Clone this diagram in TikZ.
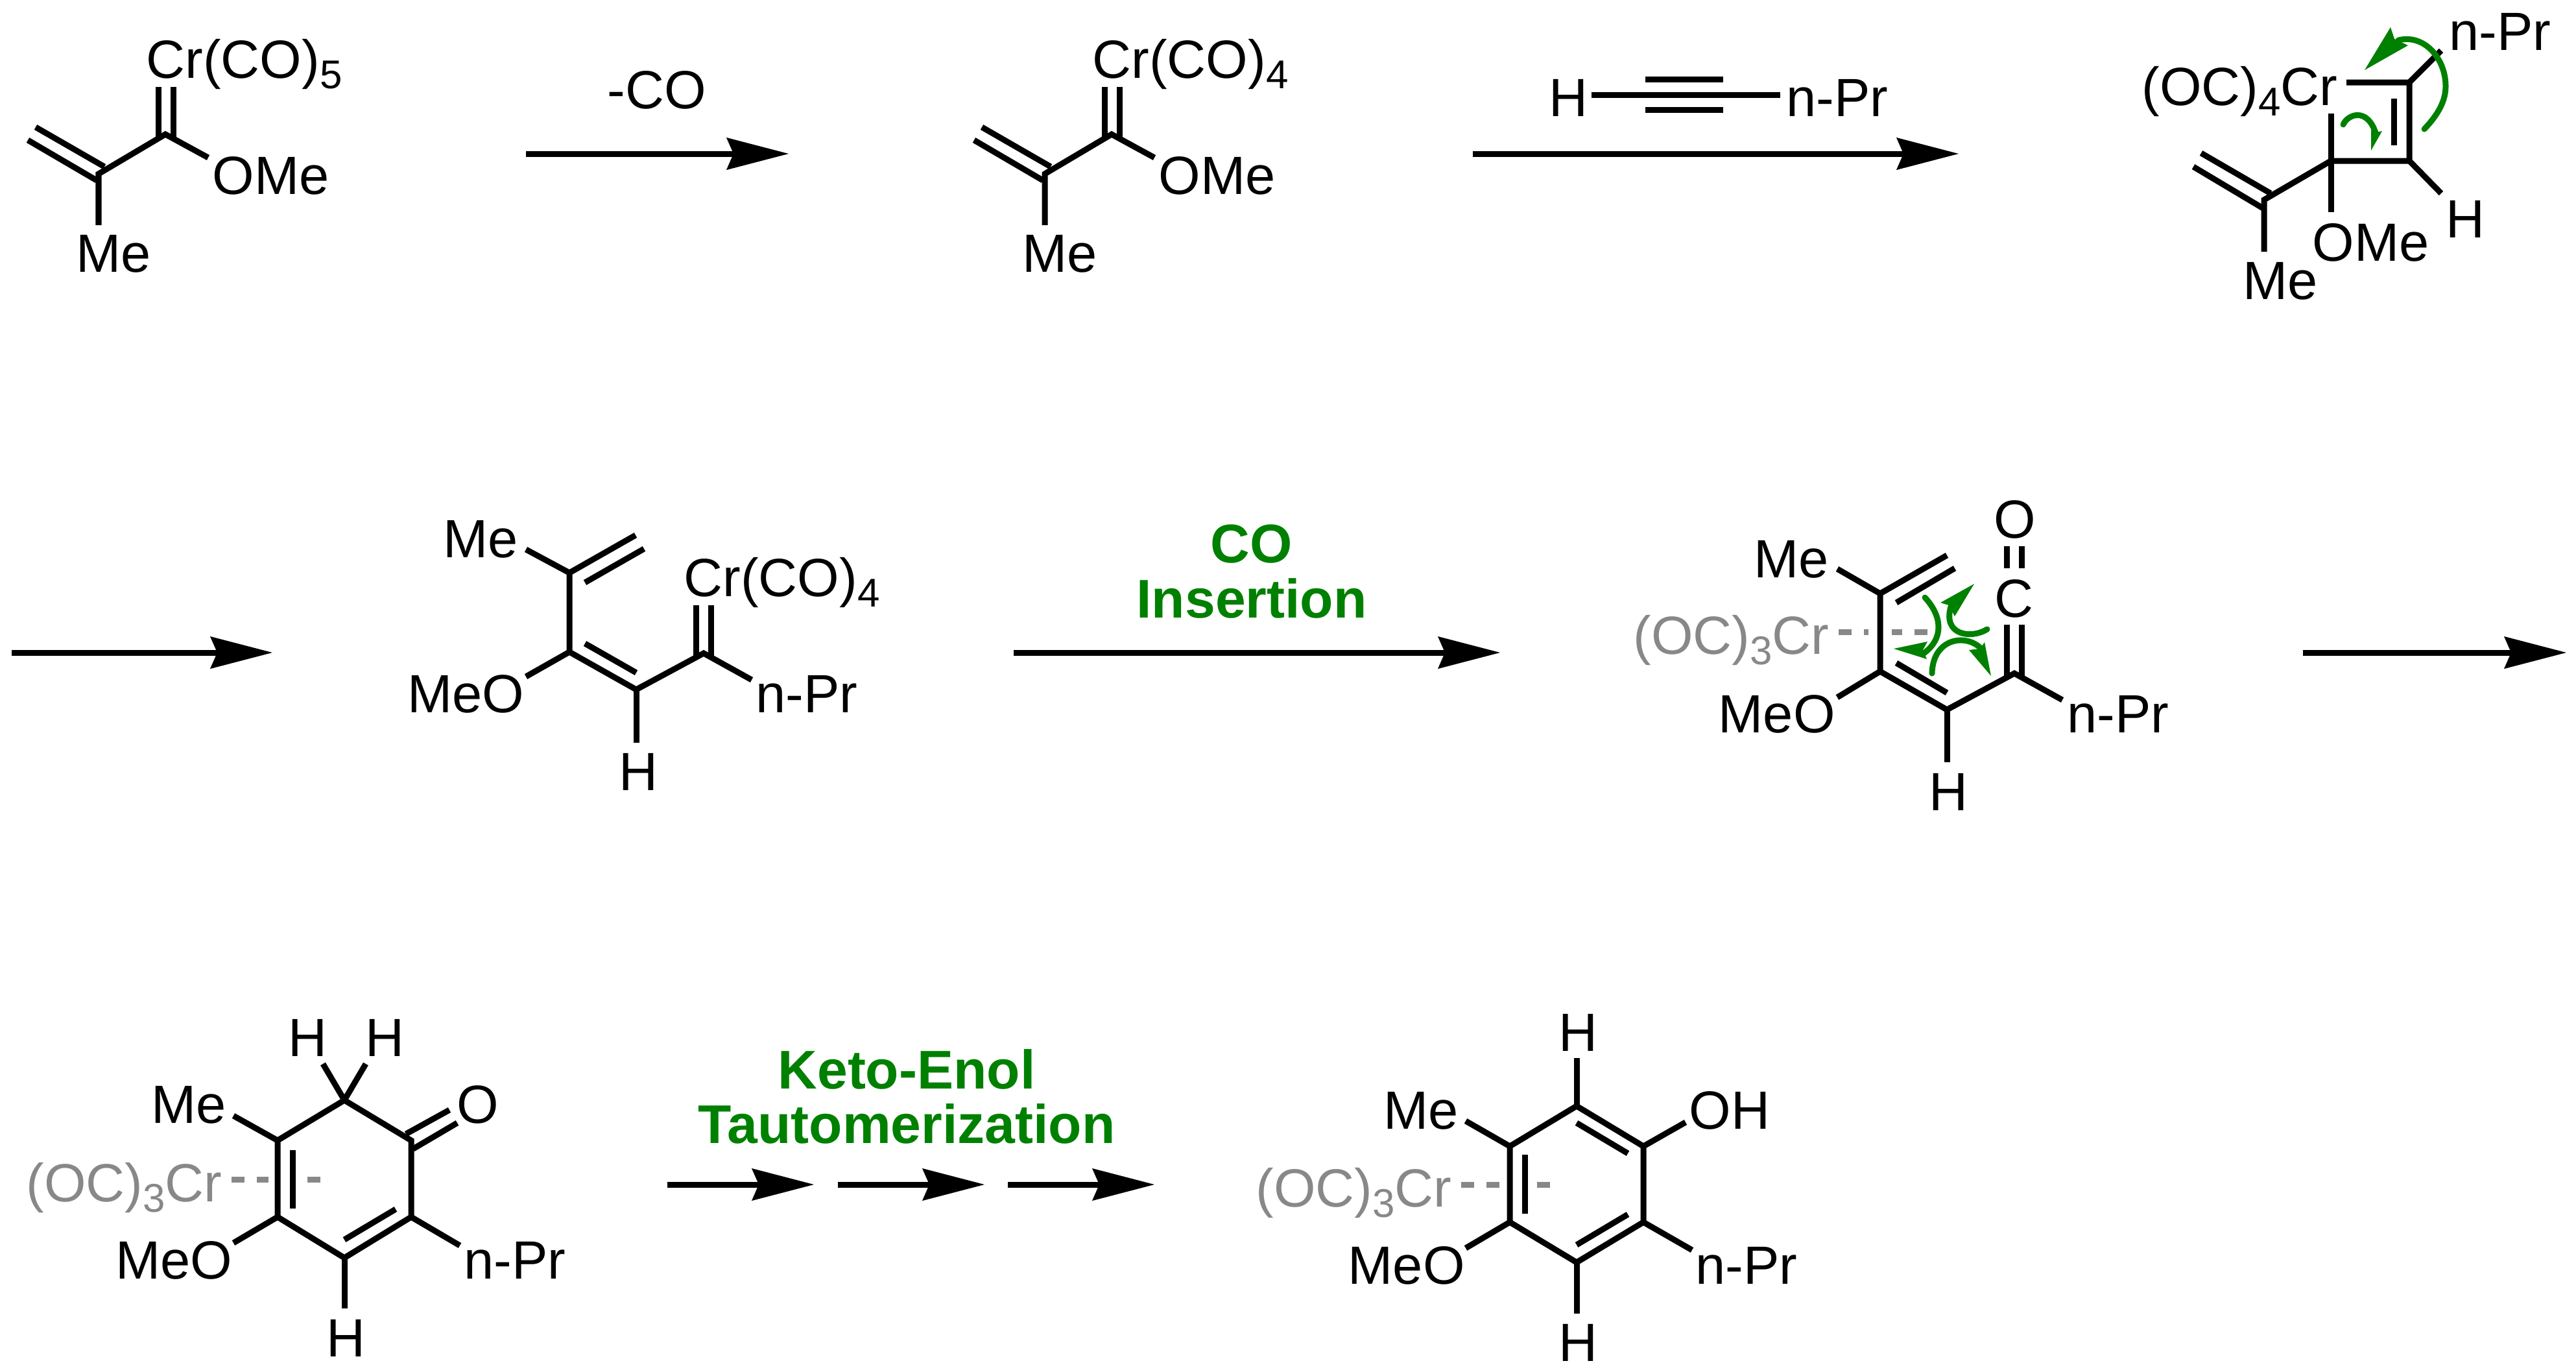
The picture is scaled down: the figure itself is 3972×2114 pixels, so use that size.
\documentclass[tikz,border=0pt]{standalone}
\usepackage{fontspec}
\setmainfont{Liberation Sans}
\usetikzlibrary{
  arrows.meta,
}
\definecolor{pushgreen}{RGB}{0,128,0}
\definecolor{crgray}{RGB}{136,136,136}
\newcommand{\dn}[1]{\raisebox{-4.6pt}{\fontsize{17.6}{18}\selectfont #1}}

\begin{document}
\begin{tikzpicture}[
  x=0.01cm, y=-0.01cm,
  lbl/.style={inner sep=0, anchor=base west, xshift=-0.05cm, font=\fontsize{23.6}{28}\selectfont},
  note/.style={inner sep=0, anchor=base, font=\fontsize{23.6}{28}\selectfont},
  bold/.style={note, text=pushgreen, font=\fontsize{23.9}{28}\selectfont\bfseries},
  crlbl/.style={lbl, text=crgray},
  bond/.style={line width=0.09cm, line cap=butt, line join=miter},
  rxn/.style={line width=0.09cm, -{Stealth[length=9.6mm, width=5mm, inset=1.1mm, line width=0pt]}},
  crlink/.style={draw=crgray, line width=0.09cm, dash pattern=on 0.2cm off 0.19cm},
  halo/.style={draw=white, line width=0.36cm},
  widehalo/.style={draw=white, line width=0.56cm},
  push/.style={draw=pushgreen, line width=0.09cm, line cap=round},
  pushhead/.style={fill=pushgreen}
]
\useasboundingbox (0,0) rectangle (3972,2114);

% vinyl carbene
\node[lbl] (crA) at (230,120) {Cr(CO)\dn{5}};
\node[lbl] (omeA) at (332,299) {OMe};
\node[lbl] (meA) at (122,419) {Me};
\coordinate (a1) at (152,268);
\coordinate (a2) at (255,207);
\draw[bond] (321,243) coordinate (a3) -- (a2) -- (a1) -- (152,347) coordinate (a4);
\draw[bond] (244,134) coordinate (a5) -- (244,213) coordinate (a6);
\draw[bond] (267,134) coordinate (a7) -- (267,213) coordinate (a8);
\draw[bond] (55,196) coordinate (a9) -- (161,257) coordinate (a10);
\draw[bond] (43,216) coordinate (a11) -- (149,278) coordinate (a12);

\coordinate (r1s) at (811,237);
\coordinate (r1e) at (1216,237);
\draw[rxn] (r1s) -- (r1e);
\node[note] (minusco) at (1013,167) {-CO};

% after loss of CO
\node[lbl] (crB) at (1689,120) {Cr(CO)\dn{4}};
\node[lbl] (omeB) at (1791,299) {OMe};
\node[lbl] (meB) at (1581,419) {Me};
\coordinate (b1) at (1611,268);
\coordinate (b2) at (1714,207);
\draw[bond] (1780,243) coordinate (b3) -- (b2) -- (b1) -- (1611,347) coordinate (b4);
\draw[bond] (1703,134) coordinate (b5) -- (1703,213) coordinate (b6);
\draw[bond] (1726,134) coordinate (b7) -- (1726,213) coordinate (b8);
\draw[bond] (1514,196) coordinate (b9) -- (1620,257) coordinate (b10);
\draw[bond] (1502,216) coordinate (b11) -- (1608,278) coordinate (b12);

\coordinate (r2s) at (2271,237);
\coordinate (r2e) at (3020,237);
\draw[rxn] (r2s) -- (r2e);
\node[lbl] (hAlk) at (2393,179) {H};
\node[lbl] (prAlk) at (2759,179) {n-Pr};
\draw[bond] (2454,146) coordinate (y1) -- (2745,146) coordinate (y2);
\draw[bond] (2537,122) coordinate (y3) -- (2657,122) coordinate (y4);
\draw[bond] (2537,169) coordinate (y5) -- (2657,169) coordinate (y6);

% metallacyclobutene
\node[lbl] (crC) at (3307,162) {(OC)\dn{4}Cr};
\node[lbl] (prC) at (3781,77) {n-Pr};
\node[lbl] (omeC) at (3570,402) {OMe};
\node[lbl] (hC) at (3776,366) {H};
\node[lbl] (meC) at (3463,461) {Me};
\coordinate (c1) at (3715,127);
\coordinate (c2) at (3715,248);
\coordinate (c3) at (3594,248);
\coordinate (c4) at (3491,308);
\draw[bond] (3618,127) coordinate (c5) -- (c1) -- (c2) -- (c3) -- (c4) -- (3491,388) coordinate (c6);
\draw[bond] (c1) -- (3764,78) coordinate (c7);
\draw[bond] (c2) -- (3764,298) coordinate (c8);
\draw[bond] (3594,175) coordinate (c9) -- (3594,327) coordinate (c10);
\draw[bond] (3691,152) coordinate (c11) -- (3691,224) coordinate (c12);
\draw[bond] (3394,236) coordinate (c13) -- (3501,298) coordinate (c14);
\draw[bond] (3382,257) coordinate (c15) -- (3491,322) coordinate (c16);
\draw[push] (3738,199) .. controls (3760,176) and (3771,155) .. (3771,133) .. controls (3771,90) and (3738,52) .. (3698,62);
\fill[pushhead] (3646,108) -- (3686,42) -- (3692,60) -- (3713,70) -- cycle;
\draw[push] (3613,192) .. controls (3620,176) and (3650,165) .. (3663,205);
\fill[pushhead] (3656,232) -- (3656,200) -- (3664,204) -- (3673,202) -- cycle;

\coordinate (r3s) at (18,1006);
\coordinate (r3e) at (420,1006);
\draw[rxn] (r3s) -- (r3e);

% vinyl carbene after insertion
\node[lbl] (meD) at (688,859) {Me};
\node[lbl] (crD) at (1059,919) {Cr(CO)\dn{4}};
\node[lbl] (omeD) at (633,1098) {MeO};
\node[lbl] (prD) at (1170,1098) {n-Pr};
\node[lbl] (hD) at (959,1218) {H};
\coordinate (d1) at (878,883);
\coordinate (d2) at (878,1005);
\coordinate (d3) at (981,1063);
\coordinate (d4) at (1085,1007);
\draw[bond] (980,825) coordinate (d5) -- (d1) -- (d2) -- (d3) -- (d4) -- (1159,1048) coordinate (d6);
\draw[bond] (811,847) coordinate (d7) -- (d1);
\draw[bond] (811,1043) coordinate (d8) -- (d2);
\draw[bond] (d3) -- (981,1145) coordinate (d9);
\draw[bond] (993,846) coordinate (d10) -- (902,898) coordinate (d11);
\draw[bond] (902,992) coordinate (d12) -- (981,1037) coordinate (d13);
\draw[bond] (1073,933) coordinate (d14) -- (1073,1012) coordinate (d15);
\draw[bond] (1096,933) coordinate (d16) -- (1096,1012) coordinate (d17);

\coordinate (r4s) at (1563,1006);
\coordinate (r4e) at (2313,1006);
\draw[rxn] (r4s) -- (r4e);
\node[bold] (co) at (1930,867) {CO};
\node[bold] (ins) at (1930,952) {Insertion};

% ketene complex
\coordinate (e1) at (2899,915);
\coordinate (e2) at (2899,1035);
\coordinate (e3) at (3002,1094);
\coordinate (e4) at (3106,1038);
\coordinate (e5) at (2835,974);
\coordinate (e6) at (2972,974);
\coordinate (e7) at (2899,958);
\coordinate (e8) at (2899,990);
\draw[crlink] (e5) -- (e6);
\draw[halo] (e7) -- (e8);
\node[crlbl] (crE) at (2523,1008) {(OC)\dn{3}Cr};
\node[lbl] (oE) at (3079,829) {O};
\node[lbl] (cE) at (3080,951) {C};
\node[lbl] (meE) at (2709,890) {Me};
\node[lbl] (omeE) at (2654,1129) {MeO};
\node[lbl] (prE) at (3192,1129) {n-Pr};
\node[lbl] (hE) at (2979,1249) {H};
\draw[bond] (3002,856) coordinate (e9) -- (e1) -- (e2) -- (e3) -- (e4) -- (3180,1079) coordinate (e10);
\draw[bond] (2833,877) coordinate (e11) -- (e1);
\draw[bond] (2833,1075) coordinate (e12) -- (e2);
\draw[bond] (e3) -- (3002,1175) coordinate (e13);
\draw[bond] (3014,876) coordinate (e14) -- (2924,929) coordinate (e15);
\draw[bond] (2924,1022) coordinate (e16) -- (3002,1068) coordinate (e17);
\draw[bond] (3094,963) coordinate (e18) -- (3094,1043) coordinate (e19);
\draw[bond] (3117,963) coordinate (e20) -- (3117,1043) coordinate (e21);
\draw[bond] (3094,842) coordinate (e22) -- (3094,876) coordinate (e23);
\draw[bond] (3117,842) coordinate (e24) -- (3117,876) coordinate (e25);
\draw[push] (2968,921) .. controls (2995,950) and (2998,985) .. (2965,1008);
\fill[pushhead] (2920,1000) -- (2972,989) -- (2965,1002) -- (2971,1016) -- cycle;
\draw[push] (3064,970) .. controls (3040,985) and (2995,980) .. (3008,935);
\fill[pushhead] (3044,900) -- (2992,929) -- (3005,933) -- (3014,950) -- cycle;
\draw[push] (2979,1038) .. controls (2980,985) and (3030,975) .. (3055,1000);
\fill[pushhead] (3070,1042) -- (3060,990) -- (3053,1000) -- (3036,1002) -- cycle;

\coordinate (r5s) at (3551,1006);
\coordinate (r5e) at (3957,1006);
\draw[rxn] (r5s) -- (r5e);

% cyclohexadienone complex
\coordinate (f1) at (428,1758);
\coordinate (f2) at (531,1696);
\coordinate (f3) at (634,1758);
\coordinate (f4) at (634,1876);
\coordinate (f5) at (531,1939);
\coordinate (f6) at (428,1876);
\coordinate (f7) at (357,1818);
\coordinate (f8) at (495,1818);
\coordinate (f9) at (442,1802);
\coordinate (f10) at (442,1834);
\draw[crlink] (f7) -- (f8);
\draw[widehalo] (f9) -- (f10);
\node[crlbl] (crF) at (45,1852) {(OC)\dn{3}Cr};
\node[lbl] (hF1) at (449,1628) {H};
\node[lbl] (hF2) at (568,1628) {H};
\node[lbl] (oF) at (709,1731) {O};
\node[lbl] (meF) at (238,1731) {Me};
\node[lbl] (omeF) at (183,1971) {MeO};
\node[lbl] (prF) at (720,1971) {n-Pr};
\node[lbl] (hF3) at (508,2091) {H};
\draw[bond] (f1) -- (f2) -- (f3) -- (f4) -- (f5) -- (f6) -- cycle;
\draw[bond] (f2) -- (498,1640) coordinate (f11);
\draw[bond] (f2) -- (564,1640) coordinate (f12);
\draw[bond] (f1) -- (360,1720) coordinate (f13);
\draw[bond] (f6) -- (360,1916) coordinate (f14);
\draw[bond] (f4) -- (709,1920) coordinate (f15);
\draw[bond] (f5) -- (531,2017) coordinate (f16);
\draw[bond] (451,1773) coordinate (f17) -- (451,1863) coordinate (f18);
\draw[bond] (610,1864) coordinate (f19) -- (531,1911) coordinate (f20);
\draw[bond] (626,1748) coordinate (f21) -- (693,1711) coordinate (f22);
\draw[bond] (637,1771) coordinate (f23) -- (705,1731) coordinate (f24);

\coordinate (r6s) at (1029,1826);
\coordinate (r6e) at (1255,1826);
\draw[rxn] (r6s) -- (r6e);
\coordinate (r7s) at (1292,1826);
\coordinate (r7e) at (1518,1826);
\draw[rxn] (r7s) -- (r7e);
\coordinate (r8s) at (1554,1826);
\coordinate (r8e) at (1780,1826);
\draw[rxn] (r8s) -- (r8e);
\node[bold] (keto) at (1398,1678) {Keto-Enol};
\node[bold] (taut) at (1398,1762) {Tautomerization};

% phenol complex
\coordinate (g1) at (2328,1767);
\coordinate (g2) at (2431,1705);
\coordinate (g3) at (2534,1767);
\coordinate (g4) at (2534,1884);
\coordinate (g5) at (2431,1946);
\coordinate (g6) at (2328,1884);
\coordinate (g7) at (2253,1826);
\coordinate (g8) at (2391,1826);
\coordinate (g9) at (2341,1810);
\coordinate (g10) at (2341,1842);
\draw[crlink] (g7) -- (g8);
\draw[widehalo] (g9) -- (g10);
\node[crlbl] (crG) at (1941,1860) {(OC)\dn{3}Cr};
\node[lbl] (hG1) at (2408,1620) {H};
\node[lbl] (meG) at (2138,1740) {Me};
\node[lbl] (ohG) at (2609,1740) {OH};
\node[lbl] (omeG) at (2083,1979) {MeO};
\node[lbl] (prG) at (2619,1979) {n-Pr};
\node[lbl] (hG2) at (2408,2098) {H};
\draw[bond] (g1) -- (g2) -- (g3) -- (g4) -- (g5) -- (g6) -- cycle;
\draw[bond] (g2) -- (2431,1631) coordinate (g11);
\draw[bond] (g1) -- (2260,1728) coordinate (g12);
\draw[bond] (g3) -- (2599,1730) coordinate (g13);
\draw[bond] (g6) -- (2260,1924) coordinate (g14);
\draw[bond] (g4) -- (2609,1927) coordinate (g15);
\draw[bond] (g5) -- (2431,2025) coordinate (g16);
\draw[bond] (2351,1780) coordinate (g17) -- (2351,1871) coordinate (g18);
\draw[bond] (2431,1731) coordinate (g19) -- (2510,1778) coordinate (g20);
\draw[bond] (2510,1872) coordinate (g21) -- (2431,1919) coordinate (g22);
\end{tikzpicture}
\end{document}
